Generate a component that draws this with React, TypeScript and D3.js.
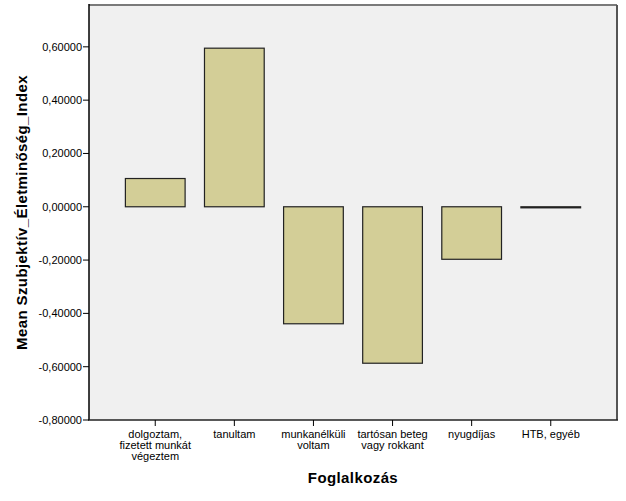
import React from "react";
import * as d3 from "d3";

const categories: string[][] = [
  ["dolgoztam,", "fizetett munkát", "végeztem"],
  ["tanultam"],
  ["munkanélküli", "voltam"],
  ["tartósan beteg", "vagy rokkant"],
  ["nyugdíjas"],
  ["HTB, egyéb"],
];
const means: number[] = [0.106, 0.595, -0.439, -0.587, -0.197, -0.004];
const yTicks: number[] = [-0.8, -0.6, -0.4, -0.2, 0, 0.2, 0.4, 0.6];
const yTitle = "Mean Szubjektív_Életminőség_Index";
const xTitle = "Foglalkozás";

const W = 626;
const H = 501;
const L = 89, R = 617, T = 5, B = 420;
const FONT = "'Liberation Sans', Arial, sans-serif";

export default function App() {
  const x = d3
    .scaleBand<number>()
    .domain(d3.range(categories.length))
    .range([L, R])
    .paddingInner(0.245)
    .paddingOuter(0.46);
  const y = d3.scaleLinear().domain([-0.8, 0.757]).range([B, T]);
  const fmt = (v: number) => d3.format(".5f")(v).replace(".", ",").replace("−", "-");

  return (
    <svg width={W} height={H} style={{ display: "block", position: "absolute", left: 0, top: 0, background: "#fff" }}>
      <rect x={L} y={T} width={R - L} height={B - T} fill="#f0f0f0" />
      {means.map((v, i) => {
        const y0 = y(0);
        const y1 = y(v);
        return (
          <rect
            key={i}
            x={x(i)!}
            y={Math.min(y0, y1)}
            width={x.bandwidth()}
            height={Math.max(Math.abs(y1 - y0), 0.5)}
            fill="#d3ce97"
            stroke="#222"
            strokeWidth={1.2}
          />
        );
      })}
      {/* frame */}
      <line x1={L} y1={T} x2={R} y2={T} stroke="#7a7a7a" strokeWidth={2} />
      <line x1={R} y1={T} x2={R} y2={B} stroke="#555" strokeWidth={2} />
      <line x1={L} y1={T - 1} x2={L} y2={B} stroke="#000" strokeWidth={1.5} />
      <line x1={L - 1} y1={B} x2={R + 1} y2={B} stroke="#222" strokeWidth={1.5} />
      {/* y ticks */}
      {yTicks.map((t) => (
        <g key={t}>
          <line x1={L - 6} x2={L} y1={y(t)} y2={y(t)} stroke="#000" />
          <text x={L - 7} y={y(t)} dy="0.35em" textAnchor="end" fontFamily={FONT} fontSize={11} fill="#000">
            {fmt(t)}
          </text>
        </g>
      ))}
      {/* x ticks */}
      {categories.map((lines, i) => {
        const cx = x(i)! + x.bandwidth() / 2;
        return (
          <g key={i}>
            <line x1={cx} x2={cx} y1={B} y2={B + 6} stroke="#000" />
            <text textAnchor="middle" fontFamily={FONT} fontSize={11} fill="#000">
              {lines.map((ln, j) => (
                <tspan key={j} x={cx} y={B + 18 + j * 11}>
                  {ln}
                </tspan>
              ))}
            </text>
          </g>
        );
      })}
      <text
        x={(L + R) / 2}
        y={483}
        textAnchor="middle"
        fontFamily={FONT}
        fontSize={15}
        fontWeight="bold"
        letterSpacing={0.4}
        fill="#000"
      >
        {xTitle}
      </text>
      <text
        transform={`translate(27, ${(T + B) / 2}) rotate(-90)`}
        textAnchor="middle"
        fontFamily={FONT}
        fontSize={15}
        fontWeight="bold"
        letterSpacing={0.4}
        fill="#000"
      >
        {yTitle}
      </text>
    </svg>
  );
}
